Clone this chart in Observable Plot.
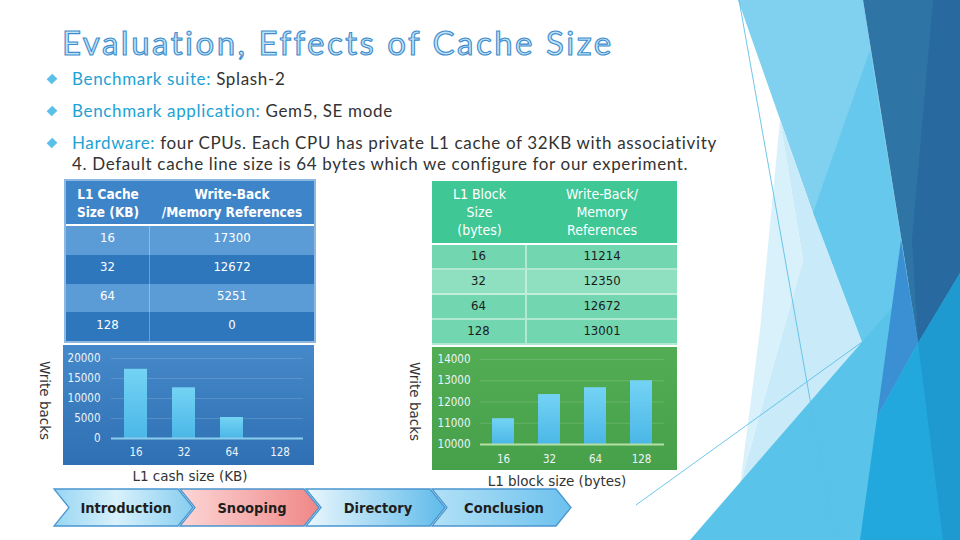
<!DOCTYPE html>
<html><head><meta charset="utf-8">
<script src="https://cdn.jsdelivr.net/npm/d3@7"></script>
<script src="https://cdn.jsdelivr.net/npm/@observablehq/plot@0.6"></script>
<style>
html,body{margin:0;padding:0;background:#fff;}
#slide{position:relative;width:960px;height:540px;overflow:hidden;background:#fff;font-family:Lato,sans-serif;}
.abs{position:absolute;box-sizing:border-box;}
.cell{display:flex;align-items:center;justify-content:center;text-align:center;}
</style></head>
<body><div id="slide"></div>
<script>
// ---- data ----
const titleText = "Evaluation, Effects of Cache Size";
const bulletLabels = ["Benchmark suite:", "Benchmark application:", "Hardware:"];
const bulletTexts = ["Splash-2", "Gem5, SE mode", "four CPUs. Each CPU has private L1 cache of 32KB with associativity<br>4. Default cache line size is 64 bytes which we configure for our experiment."];

const cacheHeaders = ["L1 Cache<br>Size (KB)", "Write-Back<br>/Memory References"];
const cacheSizes = ["16", "32", "64", "128"];
const cacheWriteBacks = [17300, 12672, 5251, 0];
const cacheTicks = [0, 5000, 10000, 15000, 20000];

const blockHeaders = ["L1 Block<br>Size<br>(bytes)", "Write-Back/<br>Memory<br>References"];
const blockSizes = ["16", "32", "64", "128"];
const blockWriteBacks = [11214, 12350, 12672, 13001];
const blockTicks = [10000, 11000, 12000, 13000, 14000];

const yLabel = "Write backs";
const cacheXLabel = "L1 cash size (KB)";
const blockXLabel = "L1 block size (bytes)";
const navItems = ["Introduction", "Snooping", "Directory", "Conclusion"];

// ---- page ----
const slide = d3.select("#slide");

// decorative background (theme facets)
const deco = slide.append("svg").attr("class","abs").attr("width",960).attr("height",540).style("left","0px").style("top","0px");
const facets = [
  ["#80d0f0", "738,0 863,0 918,343 862,342 813,213"],
  ["#66c8ec", "870,50 901,240 918,343 862,342 813,213"],
  ["#c9eaf8", "780,120 813,213 862,342 740,485 803,260"],
  ["#d8f1fb", "780,120 803,260 740,485 760,330"],
  ["#5ac3ea", "690,540 862,342 960,230 960,540"],
  ["#2e75a6", "863,0 960,0 960,273 918,343"],
  ["#28699f", "933,0 960,0 960,273 918,343 912,240"],
  ["#3a90d2", "901,240 918,343 877,417"],
  ["#23a8dd", "877,417 918,343 960,273 960,540 860,540"],
  ["#1e9ad0", "918,343 960,273 960,540 943,540"]
];
facets.forEach(([f,p]) => deco.append("polygon").attr("points",p).attr("fill",f));
deco.append("line").attr("x1",739).attr("y1",0).attr("x2",835).attr("y2",540).attr("stroke","#5ebfe6").attr("stroke-width",0.9);
deco.append("line").attr("x1",636).attr("y1",505).attr("x2",862).attr("y2",342).attr("stroke","#5ebfe6").attr("stroke-width",0.9);

// title
slide.append("div").attr("class","abs").style("left","62px").style("top","22px")
  .style("font-family","Lato").style("font-size","33px").style("line-height","40px")
  .style("color","#c2e3f6").style("-webkit-text-stroke","1.1px #3d8ccd").style("letter-spacing","2.5px")
  .style("white-space","nowrap").text(titleText);

// bullets
const bulletY = [79, 111, 143];
bulletLabels.forEach((lab, i) => {
  slide.append("div").attr("class","abs").style("left","48px").style("top",(bulletY[i]-4)+"px")
    .style("width","8px").style("height","8px").style("background","#5cbfe9").style("transform","rotate(45deg) scale(0.9,1)");
  slide.append("div").attr("class","abs").style("left","72px").style("top",(bulletY[i]-11)+"px")
    .style("font-size","17px").style("line-height","21px").style("letter-spacing","0.65px").style("color","#333").style("white-space","nowrap")
    .html(`<span style="color:#22a2d3">${lab}</span> ${bulletTexts[i]}`);
});

// tables
function cell(x, y, w, h, bg, html, css) {
  const d = slide.append("div").attr("class","abs cell").style("left",x+"px").style("top",y+"px")
    .style("width",w+"px").style("height",h+"px").style("background",bg).html(html);
  Object.entries(css||{}).forEach(([k,v]) => d.style(k,v));
  return d;
}
// left table
const LT = {x0:66, x1:150, x2:314, hTop:181, hBot:224, rTop:226, rH:28.75};
slide.append("div").attr("class","abs").style("left","64px").style("top","179px").style("width","252px").style("height","164px").style("background","#8db8e2");
const hcssL = {color:"#fff","font-family":"'DejaVu Sans Condensed'","font-weight":"bold","font-size":"13.5px","line-height":"18px"};
cell(LT.x0, LT.hTop, LT.x2-LT.x0, LT.hBot-LT.hTop, "#3d84c8", "");
cell(LT.x0, LT.hTop, LT.x1-LT.x0, LT.hBot-LT.hTop, "transparent", cacheHeaders[0], hcssL);
cell(LT.x1, LT.hTop, LT.x2-LT.x1, LT.hBot-LT.hTop, "transparent", cacheHeaders[1], hcssL);
cell(LT.x0, LT.hBot, LT.x2-LT.x0, 2, "#ffffff", "");
const bcssL = {color:"#fff","font-family":"'DejaVu Sans Condensed'","font-size":"13px","padding-bottom":"5px"};
cacheSizes.forEach((s,i) => {
  const y = LT.rTop + i*LT.rH, bg = i%2===0 ? "#5c9cd6" : "#2f77bc";
  cell(LT.x0, y, LT.x1-LT.x0, LT.rH, bg, s, Object.assign({"border-right":"1px solid rgba(255,255,255,0.3)"}, bcssL));
  cell(LT.x1, y, LT.x2-LT.x1, LT.rH, bg, String(cacheWriteBacks[i]), bcssL);
});
// right table
const RT = {x0:432, x1:527, x2:677, hTop:181, hBot:243, rTop:245, rH:25};
const hcssR = {color:"#fff","font-family":"'DejaVu Sans Condensed'","font-size":"14px","line-height":"18px"};
cell(RT.x0, RT.hTop, RT.x2-RT.x0, RT.hBot-RT.hTop, "#40c796", "");
cell(RT.x0, RT.hTop, RT.x1-RT.x0, RT.hBot-RT.hTop, "transparent", blockHeaders[0], hcssR);
cell(RT.x1, RT.hTop, RT.x2-RT.x1, RT.hBot-RT.hTop, "transparent", blockHeaders[1], hcssR);
cell(RT.x0, RT.hBot, RT.x2-RT.x0, 2, "#ffffff", "");
const bcssR = {color:"#1b1b1b","font-family":"'DejaVu Sans Condensed'","font-size":"13px","padding-bottom":"3px","border-bottom":"2px solid rgba(255,255,255,0.45)"};
blockSizes.forEach((s,i) => {
  const y = RT.rTop + i*RT.rH, bg = i===1 ? "#8fdfc1" : "#72d6b0";
  cell(RT.x0, y, RT.x1-RT.x0, RT.rH, bg, s, Object.assign({"border-right":"2px solid rgba(255,255,255,0.45)"}, bcssR));
  cell(RT.x1, y, RT.x2-RT.x1, RT.rH, bg, String(blockWriteBacks[i]), bcssR);
});

// charts
function barChart(o) {
  const data = o.cats.map((c,i) => ({c, v: o.vals[i]}));
  const svg = Plot.plot({
    width: o.width, height: o.height,
    marginLeft: o.ml, marginRight: o.mr, marginTop: o.mt, marginBottom: o.mb,
    style: {background: o.bg, color: "#edf4fb", fontFamily: "'DejaVu Sans Condensed', sans-serif", fontSize: "11.5px", overflow: "visible"},
    x: {domain: o.cats, paddingInner: 0.53, paddingOuter: 0.265, label: null},
    y: {domain: o.domain, label: null},
    marks: [
      Plot.gridY(o.ticks, {stroke: "#ffffff", strokeOpacity: 0.14}),
      Plot.barY(data, {x: "c", y1: o.domain[0], y2: "v", fill: `url(#${o.gid})`}),
      Plot.ruleY([o.domain[0]], {stroke: o.base, strokeWidth: 2}),
      Plot.axisY(o.ticks, {tickSize: 0, tickPadding: o.padY, tickFormat: d => String(d), label: null}),
      Plot.axisX(o.cats, {tickSize: 0, tickPadding: o.padX, label: null})
    ]
  });
  d3.select(svg).insert("defs", ":first-child").html(
    `<linearGradient id="${o.gid}" x1="0" y1="0" x2="0" y2="1"><stop offset="0" stop-color="#74d3f4"/><stop offset="1" stop-color="#4bb7e7"/></linearGradient>`);
  const holder = slide.append("div").attr("class","abs").style("left",o.left+"px").style("top",o.top+"px");
  holder.node().appendChild(svg);
}
barChart({cats: cacheSizes, vals: cacheWriteBacks, ticks: cacheTicks, domain: [0, 20000],
  width: 251, height: 120, ml: 48, mr: 11, mt: 13, mb: 27, padX: 9, padY: 11,
  bg: "linear-gradient(#4689ca, #2e70b3)", base: "#8ccdec", gid: "gradL", left: 63, top: 345});
barChart({cats: blockSizes, vals: blockWriteBacks, ticks: blockTicks, domain: [10000, 14000],
  width: 245, height: 123, ml: 48, mr: 13, mt: 12, mb: 26, padX: 10, padY: 10,
  bg: "linear-gradient(#52ad54, #47a04a)", base: "#b4e0a6", gid: "gradR", left: 432, top: 347});

// axis titles
function vlabel(cx, cy) {
  slide.append("div").attr("class","abs").style("left",(cx-9)+"px").style("top",(cy-40)+"px")
    .style("height","80px").style("writing-mode","vertical-rl").style("font-family","'DejaVu Sans'")
    .style("font-size","13.5px").style("line-height","18px").style("color","#333").style("text-align","center").text(yLabel);
}
vlabel(45, 401); vlabel(415, 402);
function hlabel(cx, cy, t) {
  slide.append("div").attr("class","abs").style("left",(cx-100)+"px").style("top",(cy-9)+"px").style("width","200px")
    .style("text-align","center").style("font-family","'DejaVu Sans'").style("font-size","13.5px").style("line-height","18px")
    .style("color","#333").text(t);
}
hlabel(190, 476, cacheXLabel); hlabel(557, 481, blockXLabel);

// navigation chevrons
const nav = slide.append("svg").attr("class","abs").attr("width",960).attr("height",540).style("left","0px").style("top","0px").style("pointer-events","none");
const navGrads = [
  [["0","#97d6f3"],["0.45","#d8f1fb"],["1","#86cdf0"]],
  [["0","#fcd6d6"],["1","#f08787"]],
  [["0","#eaf7fd"],["1","#5fbbea"]],
  [["0","#b2e1f6"],["1","#6cc1ed"]]
];
const defs = nav.append("defs");
navGrads.forEach((g,i) => {
  const lg = defs.append("linearGradient").attr("id","nav"+i).attr("x1",0).attr("x2",1).attr("y1",0).attr("y2",0);
  g.forEach(([o,c]) => lg.append("stop").attr("offset",o).attr("stop-color",c));
});
navItems.forEach((t,i) => {
  const L = 53 + 126*i, T = 489, B = 526, M = (T+B)/2;
  nav.append("polygon").attr("points",`${L+1},${T} ${L+125},${T} ${L+140},${M} ${L+125},${B} ${L+1},${B} ${L+16},${M}`)
    .attr("fill",`url(#nav${i})`).attr("stroke","#4a95cf").attr("stroke-width",1.3);
  nav.append("text").attr("x",L+73).attr("y",M).attr("dy","0.35em").attr("text-anchor","middle")
    .attr("font-family","'DejaVu Sans Condensed'").attr("font-weight","bold").attr("font-size","14.5px").attr("fill","#1e1e1e").text(t);
});
</script></body></html>
